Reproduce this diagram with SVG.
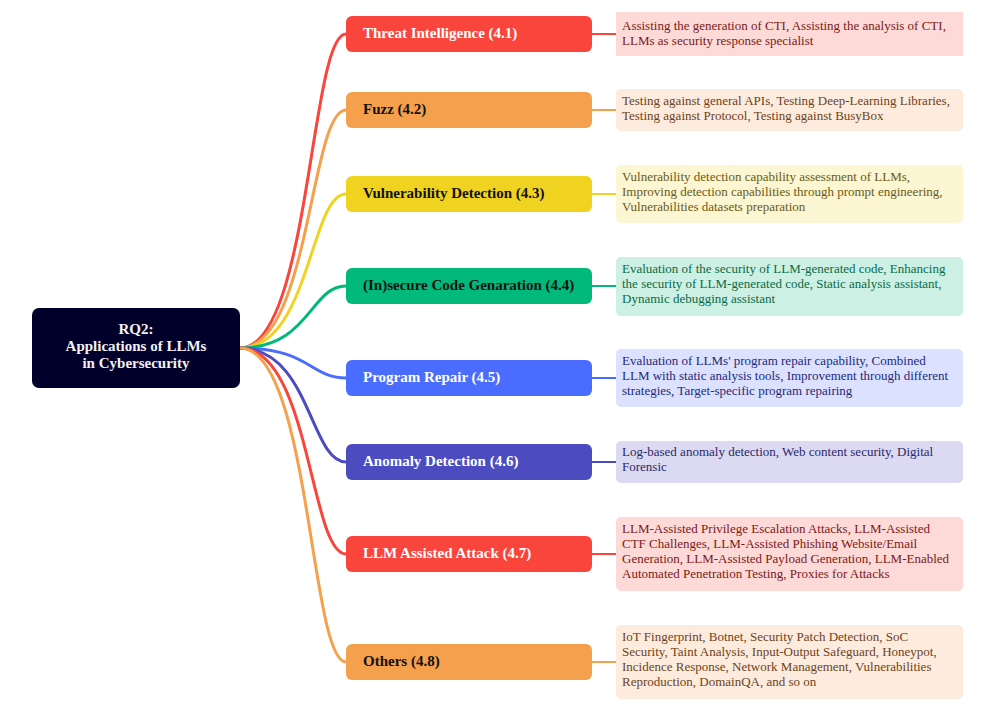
<svg xmlns="http://www.w3.org/2000/svg" width="991" height="715" viewBox="0 0 991 715">
<style>
.bt{font-family:"Liberation Serif","Times New Roman",serif;font-weight:bold;font-size:15px}
.dt{font-family:"Liberation Serif","Times New Roman",serif;font-size:13px}
.lnk{fill:none;stroke-width:3;stroke-linecap:round}
.sl{fill:none;stroke-width:2}
</style>
<rect width="991" height="715" fill="#ffffff"/>
<g id="connectors">
<path class="lnk" stroke="#f9453b" d="M240,348 C310,348 310,34 346,34"/>
<path class="lnk" stroke="#f5a04c" d="M240,348 C310,348 310,110 346,110"/>
<path class="lnk" stroke="#f0d321" d="M240,348 C310,348 310,194 346,194"/>
<path class="lnk" stroke="#00b97a" d="M240,348 C310,348 310,286 346,286"/>
<path class="lnk" stroke="#4a6cff" d="M240,348 C310,348 310,378 346,378"/>
<path class="lnk" stroke="#4c4bc0" d="M240,348 C310,348 310,462 346,462"/>
<path class="lnk" stroke="#f9453b" d="M240,348 C310,348 310,554 346,554"/>
<path class="lnk" stroke="#f5a04c" d="M240,348 C310,348 310,662 346,662"/>
<path class="sl" stroke="#f9453b" d="M592,34 H616"/>
<path class="sl" stroke="#f5a04c" d="M592,110 H616"/>
<path class="sl" stroke="#f0d321" d="M592,194 H616"/>
<path class="sl" stroke="#00b97a" d="M592,286 H616"/>
<path class="sl" stroke="#4a6cff" d="M592,378 H616"/>
<path class="sl" stroke="#4c4bc0" d="M592,462 H616"/>
<path class="sl" stroke="#f9453b" d="M592,554 H616"/>
<path class="sl" stroke="#f5a04c" d="M592,662 H616"/>
</g>
<g id="root">
<rect x="32" y="308" width="208" height="80" rx="7" fill="#00002a"/>
<text class="bt" fill="#f2f2f2" text-anchor="middle" x="136" y="334">RQ2:</text>
<text class="bt" fill="#f2f2f2" text-anchor="middle" x="136" y="351">Applications of LLMs</text>
<text class="bt" fill="#f2f2f2" text-anchor="middle" x="136" y="368">in Cybersecurity</text>
</g>
<g id="n41">
<rect x="346" y="16" width="246" height="36" rx="6" fill="#f9453b"/>
<text class="bt" fill="#ffffff" x="363" y="38">Threat Intelligence (4.1)</text>
</g>
<g id="d41">
<rect x="616" y="12" width="347" height="44" fill="#fdd9d7"/>
<text class="dt" fill="#7a1b17"><tspan x="622" y="29.5">Assisting the generation of CTI, Assisting the analysis of CTI,</tspan><tspan x="622" y="44.5">LLMs as security response specialist</tspan></text>
</g>
<g id="n42">
<rect x="346" y="92" width="246" height="36" rx="6" fill="#f5a04c"/>
<text class="bt" fill="#111111" x="363" y="114">Fuzz (4.2)</text>
</g>
<g id="d42">
<rect x="616" y="89" width="347" height="42" rx="5" fill="#fdecdd"/>
<text class="dt" fill="#6e4220"><tspan x="622" y="105">Testing against general APIs, Testing Deep-Learning Libraries,</tspan><tspan x="622" y="120">Testing against Protocol, Testing against BusyBox</tspan></text>
</g>
<g id="n43">
<rect x="346" y="176" width="246" height="36" rx="6" fill="#f0d321"/>
<text class="bt" fill="#111111" x="363" y="198">Vulnerability Detection (4.3)</text>
</g>
<g id="d43">
<rect x="616" y="165" width="347" height="58" rx="5" fill="#fcf6d3"/>
<text class="dt" fill="#6b5a14"><tspan x="622" y="181">Vulnerability detection capability assessment of LLMs,</tspan><tspan x="622" y="196">Improving detection capabilities through prompt engineering,</tspan><tspan x="622" y="211">Vulnerabilities datasets preparation</tspan></text>
</g>
<g id="n44">
<rect x="346" y="268" width="246" height="36" rx="6" fill="#00b97a"/>
<text class="bt" fill="#111111" x="363" y="290">(In)secure Code Genaration (4.4)</text>
</g>
<g id="d44">
<rect x="616" y="257" width="347" height="59" rx="5" fill="#ccf0e3"/>
<text class="dt" fill="#0b6b47"><tspan x="622" y="273">Evaluation of the security of LLM-generated code, Enhancing</tspan><tspan x="622" y="288">the security of LLM-generated code, Static analysis assistant,</tspan><tspan x="622" y="303">Dynamic debugging assistant</tspan></text>
</g>
<g id="n45">
<rect x="346" y="360" width="246" height="36" rx="6" fill="#4a6cff"/>
<text class="bt" fill="#ffffff" x="363" y="382">Program Repair (4.5)</text>
</g>
<g id="d45">
<rect x="616" y="349" width="347" height="58" rx="5" fill="#dbe1ff"/>
<text class="dt" fill="#1e2a78"><tspan x="622" y="365">Evaluation of LLMs' program repair capability, Combined</tspan><tspan x="622" y="380">LLM with static analysis tools, Improvement through different</tspan><tspan x="622" y="395">strategies, Target-specific program repairing</tspan></text>
</g>
<g id="n46">
<rect x="346" y="444" width="246" height="36" rx="6" fill="#4c4bc0"/>
<text class="bt" fill="#ffffff" x="363" y="466">Anomaly Detection (4.6)</text>
</g>
<g id="d46">
<rect x="616" y="441" width="347" height="42" rx="5" fill="#dbdaf2"/>
<text class="dt" fill="#2a2868"><tspan x="622" y="456">Log-based anomaly detection, Web content security, Digital</tspan><tspan x="622" y="471">Forensic</tspan></text>
</g>
<g id="n47">
<rect x="346" y="536" width="246" height="36" rx="6" fill="#f9453b"/>
<text class="bt" fill="#ffffff" x="363" y="558">LLM Assisted Attack (4.7)</text>
</g>
<g id="d47">
<rect x="616" y="517" width="347" height="74" rx="5" fill="#fdd9d7"/>
<text class="dt" fill="#7a1b17"><tspan x="622" y="533">LLM-Assisted Privilege Escalation Attacks, LLM-Assisted</tspan><tspan x="622" y="548">CTF Challenges, LLM-Assisted Phishing Website/Email</tspan><tspan x="622" y="563">Generation, LLM-Assisted Payload Generation, LLM-Enabled</tspan><tspan x="622" y="578">Automated Penetration Testing, Proxies for Attacks</tspan></text>
</g>
<g id="n48">
<rect x="346" y="644" width="246" height="36" rx="6" fill="#f5a04c"/>
<text class="bt" fill="#111111" x="363" y="666">Others (4.8)</text>
</g>
<g id="d48">
<rect x="616" y="625" width="347" height="74" rx="5" fill="#fdecdd"/>
<text class="dt" fill="#6e4220"><tspan x="622" y="641">IoT Fingerprint, Botnet, Security Patch Detection, SoC</tspan><tspan x="622" y="656">Security, Taint Analysis, Input-Output Safeguard, Honeypot,</tspan><tspan x="622" y="671">Incidence Response, Network Management, Vulnerabilities</tspan><tspan x="622" y="686">Reproduction, DomainQA, and so on</tspan></text>
</g>
</svg>
